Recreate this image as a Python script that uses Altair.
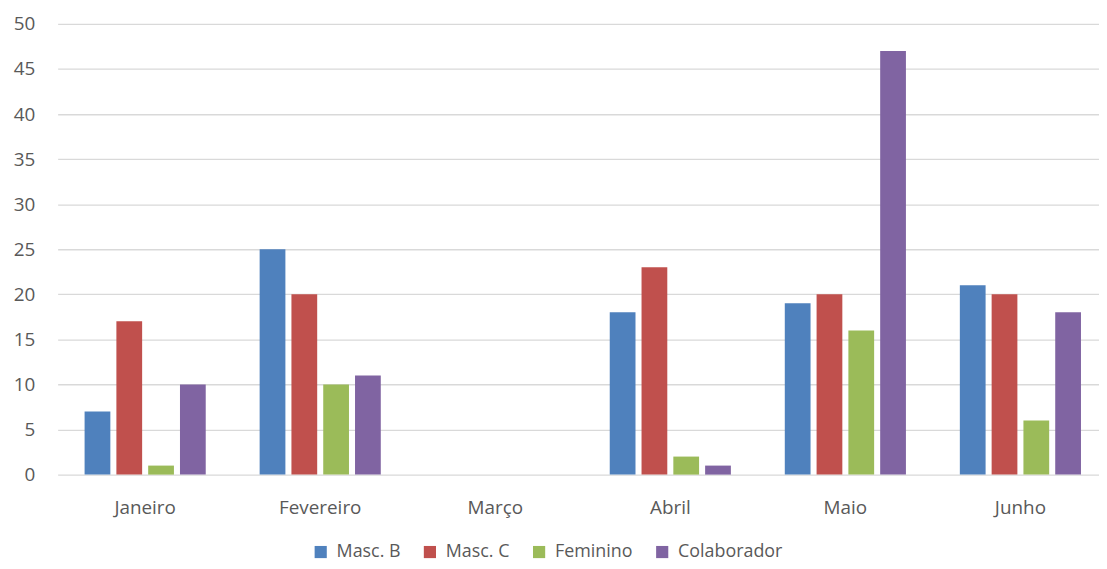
import altair as alt
import pandas as pd

months = ["Janeiro", "Fevereiro", "Março", "Abril", "Maio", "Junho"]
series = ["Masc. B", "Masc. C", "Feminino", "Colaborador"]
masc_b = [7, 25, 0, 18, 19, 21]
masc_c = [17, 20, 0, 23, 20, 20]
feminino = [1, 10, 0, 2, 16, 6]
colaborador = [10, 11, 0, 1, 47, 18]
y_ticks = [0, 5, 10, 15, 20, 25, 30, 35, 40, 45, 50]
colors = ["#4F81BD", "#C0504D", "#9BBB59", "#8064A2"]

rows = []
for s, vals in zip(series, [masc_b, masc_c, feminino, colaborador]):
    for m, v in zip(months, vals):
        rows.append({"Mês": m, "Série": s, "Valor": v})
df = pd.DataFrame(rows)

FONT = "Open Sans"
TXT = "#595959"

chart = alt.Chart(df).mark_bar(clip=False).encode(
    x=alt.X("Mês:N", sort=months, title=None,
            scale=alt.Scale(range=[0, 1058], paddingInner=0.308, paddingOuter=0.154),
            axis=alt.Axis(labelAngle=0, domain=False, ticks=False, labelPadding=24,
                          labelFont=FONT, labelFontSize=19, labelColor=TXT)),
    xOffset=alt.XOffset("Série:N", sort=series,
                        scale=alt.Scale(paddingInner=0.19, paddingOuter=0)),
    y=alt.Y("Valor:Q", title=None,
            scale=alt.Scale(domain=[0, 50], nice=False),
            axis=alt.Axis(values=y_ticks, domain=False, ticks=False, labelPadding=23,
                          gridColor="#D9D9D9", gridWidth=1.3,
                          labelFont=FONT, labelFontSize=19, labelColor=TXT)),
    color=alt.Color("Série:N", sort=series,
                    scale=alt.Scale(domain=series, range=colors),
                    legend=alt.Legend(title=None, orient="none", direction="horizontal",
                                      legendX=256, legendY=523,
                                      symbolType="square", symbolSize=150,
                                      symbolStrokeWidth=0, columnPadding=20,
                                      labelFont=FONT, labelFontSize=18, labelColor=TXT,
                                      labelOffset=7)),
).properties(
    width=1049,
    height=454,
    autosize=alt.AutoSizeParams(type="none"),
    padding={"left": 50, "top": 14, "right": 0, "bottom": 85},
).configure_view(stroke=None)

chart.save("out.html", embed_options={"renderer": "svg", "actions": False})
